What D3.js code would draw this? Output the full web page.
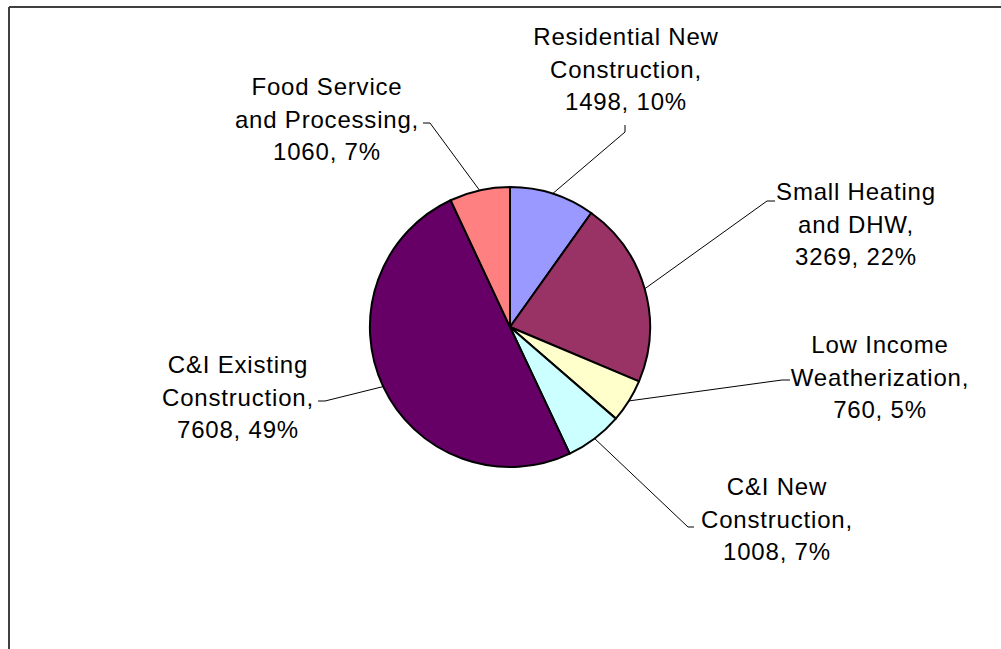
<!DOCTYPE html>
<html>
<head>
<meta charset="utf-8">
<script src="https://cdn.jsdelivr.net/npm/d3@7"></script>
<style>
  body { margin: 0; background: #fff; }
  svg { display: block; }
  text { font-family: "Liberation Sans", Arial, sans-serif; font-size: 24px; letter-spacing: 0.8px; fill: #000; }
</style>
</head>
<body>
<svg id="chart" width="1001" height="649"></svg>
<script>
// data
const categories = [
  ["Residential New", "Construction,"],
  ["Small Heating", "and DHW,"],
  ["Low Income", "Weatherization,"],
  ["C&I New", "Construction,"],
  ["C&I Existing", "Construction,"],
  ["Food Service", "and Processing,"]
];
const values = [1498, 3269, 760, 1008, 7608, 1060];
const percents = ["10%", "22%", "5%", "7%", "49%", "7%"];
const colors = ["#9999FF", "#993366", "#FFFFCC", "#CCFFFF", "#660066", "#FF8080"];

// label layout: text centre x, first baseline y, leader attach point and elbow
const labelPos = [
  { x: 626, y: 45, attach: [625, 125], elbow: [625, 132] },
  { x: 856, y: 200, attach: [775, 201], elbow: [767, 201] },
  { x: 880, y: 353, attach: [790, 380], elbow: [782, 380] },
  { x: 777, y: 495, attach: [694, 527], elbow: [688, 527] },
  { x: 238, y: 373, attach: [318, 401], elbow: [325, 401] },
  { x: 327, y: 95, attach: [423, 123], elbow: [430, 123] }
];

const width = 1001, height = 649;
const cx = 510, cy = 327, radius = 140;
const lineH = 32.5;

const svg = d3.select("#chart");

// frame (top and left edges only are visible)
svg.append("line").attr("x1", 9).attr("y1", 7).attr("x2", width).attr("y2", 7)
  .attr("stroke", "#404040").attr("stroke-width", 2);
svg.append("line").attr("x1", 9).attr("y1", 7).attr("x2", 9).attr("y2", height)
  .attr("stroke", "#404040").attr("stroke-width", 2);

const pie = d3.pie().sort(null).value(d => d);
const arcs = pie(values);
const arc = d3.arc().innerRadius(0).outerRadius(radius);

const g = svg.append("g").attr("transform", `translate(${cx},${cy})`);

g.selectAll(".slice")
  .data(arcs)
  .enter()
  .append("path")
  .attr("class", "slice")
  .attr("d", arc)
  .attr("fill", (d, i) => colors[i])
  .attr("stroke", "#000")
  .attr("stroke-width", 2)
  .attr("stroke-linejoin", "round");

// leader lines: label -> elbow -> middle of slice's outer edge
svg.selectAll(".leader")
  .data(arcs)
  .enter()
  .append("polyline")
  .attr("class", "leader")
  .attr("fill", "none")
  .attr("stroke", "#000")
  .attr("stroke-width", 1)
  .attr("points", (d, i) => {
    const a = (d.startAngle + d.endAngle) / 2;
    const px = cx + radius * Math.sin(a);
    const py = cy - radius * Math.cos(a);
    const p = labelPos[i];
    return [p.attach, p.elbow, [px, py]].map(q => q.join(",")).join(" ");
  });

// labels
const labels = svg.selectAll(".label")
  .data(arcs)
  .enter()
  .append("text")
  .attr("class", "label")
  .attr("text-anchor", "middle");

labels.each(function (d, i) {
  const lines = categories[i].concat([`${values[i]}, ${percents[i]}`]);
  const p = labelPos[i];
  d3.select(this).selectAll("tspan")
    .data(lines)
    .enter()
    .append("tspan")
    .attr("x", p.x)
    .attr("y", (t, j) => p.y + j * lineH)
    .text(t => t);
});
</script>
</body>
</html>
